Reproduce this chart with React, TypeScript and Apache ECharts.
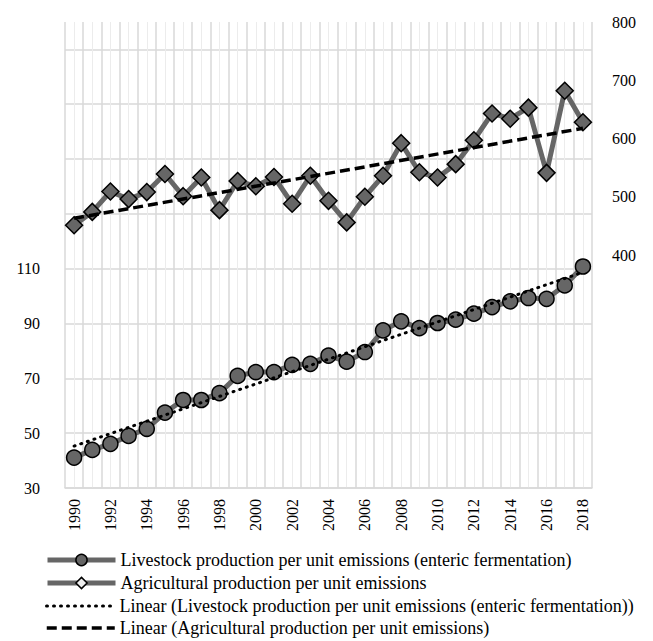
import React, { useEffect, useRef } from "react";
import * as echarts from "echarts";

const years = [
  "1990", "1991", "1992", "1993", "1994", "1995", "1996", "1997", "1998", "1999",
  "2000", "2001", "2002", "2003", "2004", "2005", "2006", "2007", "2008", "2009",
  "2010", "2011", "2012", "2013", "2014", "2015", "2016", "2017", "2018",
];

const livestock = [
  41.1, 43.9, 46.1, 49.0, 51.6, 57.5, 62.1, 62.1, 64.6, 70.9,
  72.3, 72.3, 74.9, 75.3, 78.3, 76.1, 79.6, 87.5, 90.8, 88.3,
  90.2, 91.4, 93.6, 96.0, 98.1, 99.3, 99.0, 103.9, 110.8,
];

const agricultural = [
  451, 474, 509, 496, 508, 539, 501, 533, 477, 527,
  518, 534, 488, 536, 493, 456, 500, 536, 592, 542,
  533, 556, 597, 643, 634, 653, 541, 682, 628,
];

// Trend line end points (1990, 2018)
const livestockTrendEnds = [45.3, 108.7];
const agriculturalTrendEnds = [463, 617.5];

const legendNames = [
  "Livestock production per unit emissions (enteric fermentation)",
  "Agricultural production per unit emissions",
  "Linear (Livestock production per unit emissions (enteric fermentation))",
  "Linear (Agricultural production per unit emissions)",
];

const FONT = "'Liberation Serif', 'Times New Roman', serif";
const GRAY = "#666666";

function trendData(ends: number[]) {
  return years.map((_, i) =>
    i === 0 ? ends[0] : i === years.length - 1 ? ends[1] : null
  );
}

const legendRowCenters = [561, 584, 607, 629];
const legendLineStyles = [
  { color: GRAY, width: 5 },
  { color: GRAY, width: 5 },
  { color: "#000", width: 3, type: [1, 6], cap: "round" },
  { color: "#000", width: 3.5, type: [10, 5] },
];

export default function App() {
  const ref = useRef<HTMLDivElement>(null);
  useEffect(() => {
    if (!ref.current) return;
    const chart = echarts.init(ref.current, null, { renderer: "svg" });
    chart.setOption({
      animation: false,
      backgroundColor: "#ffffff",
      textStyle: { fontFamily: FONT },
      grid: { left: 65, right: 61, top: 22, bottom: 153, containLabel: false },
      legend: legendNames.map((name, i) => ({
        orient: "horizontal",
        left: 45,
        top: legendRowCenters[i] - 10,
        padding: 0,
        itemWidth: 68,
        itemHeight: 14,
        textStyle: { fontFamily: FONT, fontSize: 18, color: "#000" },
        data: [
          {
            name,
            lineStyle: legendLineStyles[i],
            itemStyle:
              i >= 2
                ? { opacity: 0, color: "transparent", borderWidth: 0 }
                : { color: i === 1 ? "#eeeeee" : GRAY, borderColor: "#000", borderWidth: 1.5 },
          },
        ],
      })),
      xAxis: [
        {
          type: "category",
          data: years,
          boundaryGap: true,
          axisLine: { show: true, lineStyle: { color: "#d9d9d9", width: 1.5 } },
          axisTick: { show: false },
          splitLine: { show: false },
          axisLabel: {
            interval: 1,
            rotate: 90,
            margin: 11,
            fontFamily: FONT,
            fontSize: 16,
            color: "#000",
          },
        },
        {
          type: "value",
          min: 0,
          max: 29,
          interval: 1,
          position: "bottom",
          axisLine: { show: false },
          axisTick: { show: false },
          axisLabel: { show: false },
          minorTick: { show: true, splitNumber: 2, length: 0 },
          splitLine: { show: true, lineStyle: { color: "#d9d9d9", width: 1.5 } },
          minorSplitLine: { show: true, lineStyle: { color: "#ececec", width: 1 } },
        },
      ],
      yAxis: [
        {
          type: "value",
          min: 30,
          max: 200,
          interval: 20,
          position: "left",
          axisLine: { show: false },
          axisTick: { show: false },
          splitLine: {
            show: true,
            showMaxLine: false,
            lineStyle: { color: "#d9d9d9", width: 1.5 },
          },
          axisLabel: {
            margin: 25,
            fontFamily: FONT,
            fontSize: 16,
            color: "#000",
            formatter: (v: number) => (v <= 110 ? String(v) : ""),
          },
        },
        {
          type: "value",
          min: 0,
          max: 800,
          interval: 100,
          position: "right",
          axisLine: { show: false },
          axisTick: { show: false },
          splitLine: { show: false },
          axisLabel: {
            margin: 20,
            fontFamily: FONT,
            fontSize: 16,
            color: "#000",
            formatter: (v: number) => (v >= 400 ? String(v) : ""),
          },
        },
      ],
      series: [
        {
          name: legendNames[0],
          type: "line",
          xAxisIndex: 0,
          yAxisIndex: 0,
          data: livestock,
          symbol: "circle",
          symbolSize: 15,
          showAllSymbol: true,
          z: 2,
          lineStyle: { color: GRAY, width: 5 },
          itemStyle: { color: GRAY, borderColor: "#000", borderWidth: 1.5 },
        },
        {
          name: legendNames[1],
          type: "line",
          xAxisIndex: 0,
          yAxisIndex: 1,
          data: agricultural,
          symbol: "diamond",
          symbolSize: 17,
          showAllSymbol: true,
          z: 3,
          lineStyle: { color: GRAY, width: 5 },
          itemStyle: { color: GRAY, borderColor: "#000", borderWidth: 1.5 },
        },
        {
          name: legendNames[2],
          type: "line",
          xAxisIndex: 0,
          yAxisIndex: 0,
          data: trendData(livestockTrendEnds),
          connectNulls: true,
          symbol: "none",
          z: 4,
          lineStyle: { color: "#000", width: 3, type: [1, 6], cap: "round" },
          itemStyle: { color: "#000" },
        },
        {
          name: legendNames[3],
          type: "line",
          xAxisIndex: 0,
          yAxisIndex: 1,
          data: trendData(agriculturalTrendEnds),
          connectNulls: true,
          symbol: "none",
          z: 4,
          lineStyle: { color: "#000", width: 3.5, type: [10, 5] },
          itemStyle: { color: "#000" },
        },
      ],
    });
    return () => chart.dispose();
  }, []);
  return (
    <div
      ref={ref}
      style={{ position: "fixed", left: 0, top: 0, width: 653, height: 641 }}
    />
  );
}
